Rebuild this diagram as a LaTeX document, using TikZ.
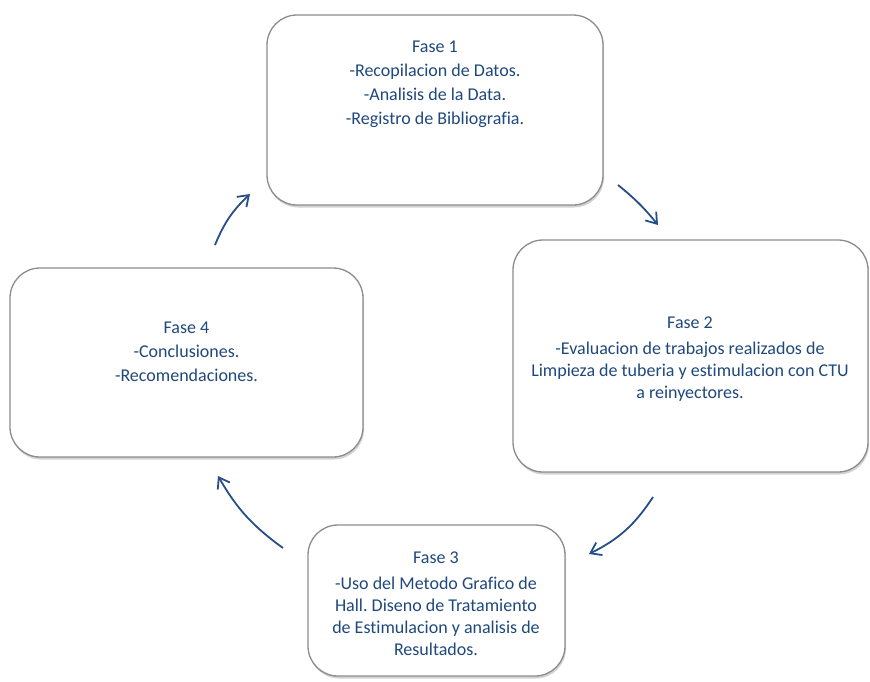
\documentclass[tikz,border=0pt]{standalone}
\usepackage{fontspec}
\setmainfont{Carlito}[Ligatures=NoCommon]
\frenchspacing
\usetikzlibrary{positioning}
\usetikzlibrary{arrows.meta}
\usetikzlibrary{shadows}
\definecolor{fasetext}{RGB}{31,73,125}
\definecolor{fasearrow}{RGB}{38,78,135}

\begin{document}
\begin{tikzpicture}[x=1pt, y=-1pt, align=center,
	fasebox/.style={rectangle, rounded corners=30pt, draw=black!45, line width=1.3pt, fill=white, drop shadow={shadow xshift=1pt, shadow yshift=-2.5pt, opacity=0.35}},
	fasetxt/.style={text=fasetext, font=\fontsize{18}{22}\selectfont},
	cycarrow/.style={draw=fasearrow, line width=1.8pt, -{Straight Barb[length=10pt,width=14pt]}}]
		\useasboundingbox (0,0) rectangle (870,681);
		\node[fasebox, minimum width=336pt, minimum height=190pt] (fase1) at (435,110) {};
		\node[fasebox, minimum width=355pt, minimum height=232pt] (fase2) at (690.5,356) {};
		\node[fasebox, minimum width=257pt, minimum height=151pt] (fase3) at (436.5,600.5) {};
		\node[fasebox, minimum width=353pt, minimum height=189pt] (fase4) at (186.5,362.5) {};
		\node[fasetxt] (text1) at (435,84) {Fase 1\\[2pt]-Recopilacion de Datos.\\[2pt]-Analisis de la Data.\\[2pt]-Registro de Bibliografia.};
		\node[fasetxt] (text2) at (690,359) {Fase 2\\[4pt]-Evaluacion de trabajos realizados de\\Limpieza de tuberia y estimulacion con CTU\\a reinyectores.};
		\node[fasetxt] (text3) at (436,604) {Fase 3\\[4pt]-Uso del Metodo Grafico de\\Hall. Diseno de Tratamiento\\de Estimulacion y analisis de\\Resultados.};
		\node[fasetxt] (text4) at (186.5,352) {Fase 4\\[2pt]-Conclusiones.\\[2pt]-Recomendaciones.};
		\coordinate (a1s) at (215,245);
		\coordinate (a1e) at (250,194);
		\coordinate (a2s) at (618,185);
		\coordinate (a2e) at (658,225);
		\coordinate (a3s) at (653,497);
		\coordinate (a3e) at (589,554);
		\coordinate (a4s) at (283,548);
		\coordinate (a4e) at (218,476);
		\draw[cycarrow] (a1s) to[bend left=12] (a1e);
		\draw[cycarrow] (a2s) to[bend left=6] (a2e);
		\draw[cycarrow] (a3s) to[bend left=15] (a3e);
		\draw[cycarrow] (a4s) to[bend left=12] (a4e);
	\end{tikzpicture}
\end{document}
